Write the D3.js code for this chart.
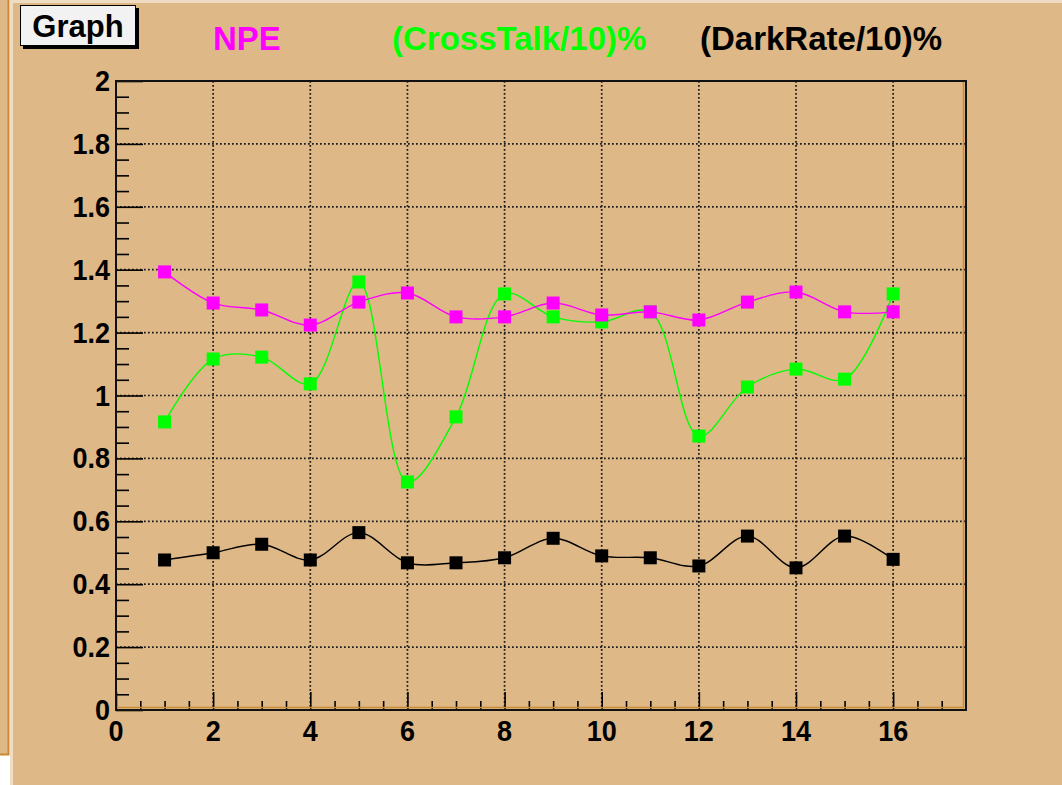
<!DOCTYPE html>
<html>
<head>
<meta charset="utf-8">
<script src="https://cdn.jsdelivr.net/npm/d3@7"></script>
<style>
  html, body { margin: 0; padding: 0; background: #ffffff; }
  svg { display: block; }
  text { font-family: "Liberation Sans", Arial, Helvetica, sans-serif; font-weight: bold; }
</style>
</head>
<body>
<svg id="chart" width="1062" height="785"></svg>
<script>
// channel number on x
const channels = [1, 2, 3, 4, 5, 6, 7, 8, 9, 10, 11, 12, 13, 14, 15, 16];

// values
const npe = [1.393, 1.294, 1.272, 1.224, 1.297, 1.326, 1.250, 1.250,
             1.294, 1.256, 1.266, 1.240, 1.297, 1.329, 1.266, 1.266];
const crossTalk = [0.916, 1.116, 1.122, 1.037, 1.361, 0.725, 0.932, 1.323,
                   1.250, 1.234, 1.266, 0.871, 1.027, 1.084, 1.052, 1.323];
const darkRate = [0.477, 0.500, 0.527, 0.477, 0.564, 0.468, 0.468, 0.484,
                  0.546, 0.490, 0.484, 0.458, 0.553, 0.452, 0.553, 0.479];

const seriesNames = ["NPE", "(CrossTalk/10)%", "(DarkRate/10)%"];
const seriesColors = ["#ff00ff", "#00ff00", "#000000"];

const xTicks = [0, 2, 4, 6, 8, 10, 12, 14, 16];
const yTicks = [0, 0.2, 0.4, 0.6, 0.8, 1, 1.2, 1.4, 1.6, 1.8, 2];
const yTickLabels = ["0", "0.2", "0.4", "0.6", "0.8", "1", "1.2", "1.4", "1.6", "1.8", "2"];

const BG = "#deb887";

const svg = d3.select("#chart");

// ---- canvas background (ROOT-ish window) ----
svg.append("rect").attr("x", 0).attr("y", 0).attr("width", 9).attr("height", 754)
    .attr("fill", BG);
svg.append("path").attr("d", "M8.5,0 V754.5 H0").attr("fill", "none")
    .attr("stroke", "#c98a35").attr("stroke-width", 2);
svg.append("rect").attr("x", 10).attr("y", 0).attr("width", 1052).attr("height", 785)
    .attr("fill", BG);
// light bevel on top/left
svg.append("rect").attr("x", 10).attr("y", 0).attr("width", 1052).attr("height", 3)
    .attr("fill", "#efdcc2");
svg.append("rect").attr("x", 10).attr("y", 0).attr("width", 3).attr("height", 785)
    .attr("fill", "#efdcc2");

// ---- scales ----
const frame = { left: 116, top: 81, right: 966, bottom: 710 };
const x = d3.scaleLinear().domain([0, 17.5]).range([frame.left, frame.right]);
const y = d3.scaleLinear().domain([0, 2]).range([frame.bottom, frame.top]);

// ---- grid ----
const grid = svg.append("g").attr("class", "grid")
    .attr("stroke", "#1a1a1a").attr("stroke-width", 1.7)
    .attr("stroke-dasharray", "1.7,2.3");
grid.selectAll("line.gx")
    .data(xTicks.filter(d => d > 0))
    .join("line")
    .attr("class", "gx")
    .attr("x1", d => x(d)).attr("x2", d => x(d))
    .attr("y1", frame.top).attr("y2", frame.bottom);
grid.selectAll("line.gy")
    .data(yTicks.filter(d => d > 0 && d < 2))
    .join("line")
    .attr("class", "gy")
    .attr("y1", d => y(d)).attr("y2", d => y(d))
    .attr("x1", frame.left).attr("x2", frame.right);

// ---- axes (ticks inside the frame, like ROOT) ----
const xAxis = d3.axisTop(x)
    .tickValues(d3.range(0, 17.5, 0.5))
    .tickSize(0)
    .tickFormat("");
const gx = svg.append("g").attr("transform", `translate(0,${frame.bottom})`).call(xAxis);
gx.select(".domain").remove();
gx.selectAll(".tick line")
    .attr("stroke", "#000").attr("stroke-width", 1.6)
    .attr("y2", d => (Math.abs(d % 2) < 1e-9 ? -18 : -9));

const yAxis = d3.axisRight(y)
    .tickValues(d3.range(0, 2.0001, 0.05))
    .tickSize(0)
    .tickFormat("");
const gy = svg.append("g").attr("transform", `translate(${frame.left},0)`).call(yAxis);
gy.select(".domain").remove();
gy.selectAll(".tick line")
    .attr("stroke", "#000").attr("stroke-width", 1.6)
    .attr("x2", (d, i) => (i % 4 === 0 ? 27 : 13));

// tick labels (ROOT's font renders a bit taller than Arial)
svg.append("g").selectAll("text")
    .data(xTicks)
    .join("text")
    .attr("transform", d => `translate(${x(d)},741) scale(1,1.1)`)
    .attr("text-anchor", "middle")
    .attr("font-size", 27)
    .attr("fill", "#000")
    .text(d => d);
svg.append("g").selectAll("text")
    .data(yTicks)
    .join("text")
    .attr("transform", d => `translate(${frame.left - 6},${y(d) + 10}) scale(1,1.1)`)
    .attr("text-anchor", "end")
    .attr("font-size", 27)
    .attr("fill", "#000")
    .text((d, i) => yTickLabels[i]);

// ---- series ----
const allSeries = [npe, crossTalk, darkRate];
const line = d3.line()
    .x((d, i) => x(channels[i]))
    .y(d => y(d))
    .curve(d3.curveCatmullRom.alpha(0.5));

// draw black first so coloured ones sit on top, green under magenta
const drawOrder = [2, 1, 0];
drawOrder.forEach(k => {
    const g = svg.append("g").attr("class", "series-" + k);
    g.append("path")
        .datum(allSeries[k])
        .attr("fill", "none")
        .attr("stroke", seriesColors[k])
        .attr("stroke-width", 1.4)
        .attr("d", line);
    g.selectAll("rect")
        .data(allSeries[k])
        .join("rect")
        .attr("x", (d, i) => x(channels[i]) - 6.5)
        .attr("y", d => y(d) - 6.5)
        .attr("width", 13)
        .attr("height", 13)
        .attr("fill", seriesColors[k]);
});

// ---- frame ----
svg.append("path")
    .attr("d", `M${frame.left + 1},${frame.bottom - 2.5} H${frame.right - 2.5} V${frame.top}`)
    .attr("fill", "none").attr("stroke", "#c98a35").attr("stroke-width", 1.5);
svg.append("rect")
    .attr("x", frame.left).attr("y", frame.top)
    .attr("width", frame.right - frame.left).attr("height", frame.bottom - frame.top)
    .attr("fill", "none").attr("stroke", "#111").attr("stroke-width", 2);

// ---- title box ----
svg.append("rect").attr("x", 23).attr("y", 8).attr("width", 116).attr("height", 41)
    .attr("fill", "#000");
svg.append("rect").attr("x", 20.5).attr("y", 5.5).attr("width", 115).attr("height", 40)
    .attr("fill", "#f2f2f2").attr("stroke", "#000").attr("stroke-width", 1);
svg.append("text").attr("x", 78).attr("y", 37)
    .attr("text-anchor", "middle").attr("font-size", 31).attr("fill", "#000")
    .text("Graph");

// ---- legend text ----
const legendX = [213, 392, 700];
svg.append("g").selectAll("text")
    .data(seriesNames)
    .join("text")
    .attr("x", (d, i) => legendX[i])
    .attr("y", 50)
    .attr("font-size", 33)
    .attr("fill", (d, i) => seriesColors[i])
    .text(d => d);
</script>
</body>
</html>
